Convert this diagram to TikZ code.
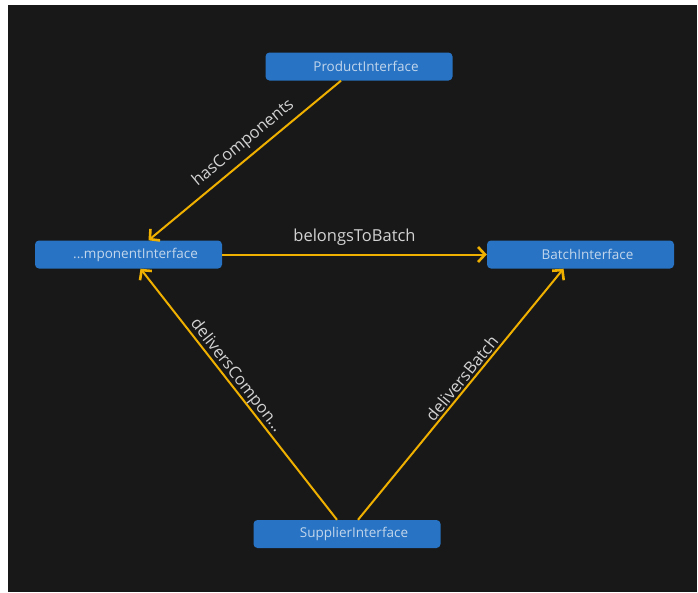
\documentclass[tikz,border=0pt]{standalone}
\usepackage{fontspec}
\setmainfont{Open Sans}
\usetikzlibrary{arrows.meta}
\definecolor{pagebg}{HTML}{181818}
\definecolor{boxfill}{HTML}{2873C3}
\definecolor{boxtext}{HTML}{C2D6EC}
\definecolor{edgecol}{HTML}{F0B000}
\definecolor{labeltext}{HTML}{D2D2D2}
\begin{document}
\begin{tikzpicture}[x=1pt,y=1pt,
  entity/.style={fill=boxfill, rounded corners=4pt, minimum width=187pt,
    minimum height=28pt, inner sep=0pt, text=boxtext,
    font=\fontsize{13.5}{15}\selectfont,
    execute at begin node=\hspace*{14pt}},
  rel/.style={draw=edgecol, line width=2pt,
    -{Straight Barb[length=7pt,width=15pt,line width=2.6pt]}},
  rellabel/.style={sloped, inner sep=0pt, text=labeltext,
    font=\fontsize{16.5}{18}\selectfont}
]
% canvas
\useasboundingbox (0,0) rectangle (698,-592);
\fill[white] (0,0) rectangle (698,-592);
\fill[pagebg] (8,-5) rectangle (697,-592);

% interfaces
\node[entity] (prod)  at (359,-66.5)   {ProductInterface};
\node[entity] (comp)  at (128.5,-254.5) {...mponentInterface};
\node[entity] (batch) at (580.5,-254.5) {BatchInterface};
\node[entity] (sup)   at (347,-534)    {SupplierInterface};

% relations
\draw[rel] ([xshift=-18pt]prod.south) --
  node[rellabel, above=5pt, pos=0.46] {hasComponents}
  ([xshift=20pt]comp.north);
\draw[rel] (comp.east) --
  node[rellabel, above=8pt, pos=0.5] {belongsToBatch}
  (batch.west);
\draw[rel] ([xshift=-10pt]sup.north) --
  node[rellabel, above=0pt, pos=0.55] {deliversCompon...}
  ([xshift=12pt]comp.south);
\draw[rel] ([xshift=11pt]sup.north) --
  node[rellabel, above=2pt, pos=0.54] {deliversBatch}
  ([xshift=-17pt]batch.south);
\end{tikzpicture}
\end{document}
